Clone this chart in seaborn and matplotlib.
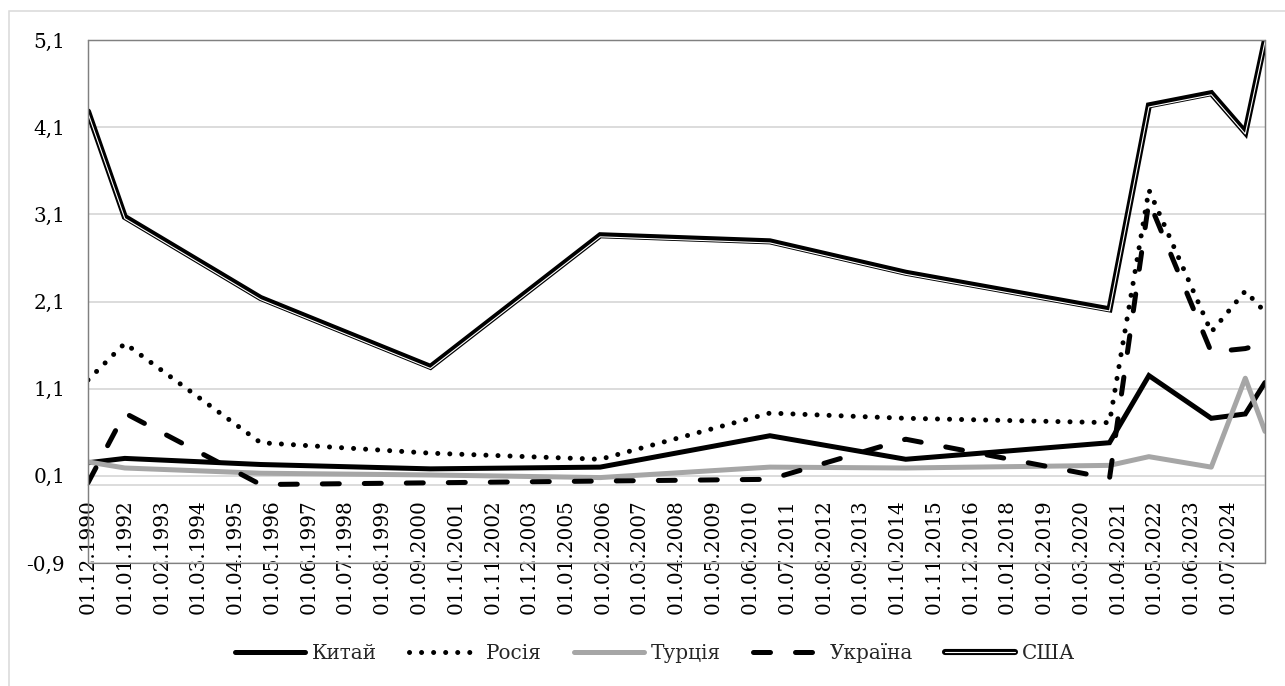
import matplotlib
matplotlib.use("Agg")
import matplotlib.pyplot as plt
import matplotlib.dates as mdates
from matplotlib.transforms import offset_copy
from matplotlib.patches import Rectangle
from matplotlib.legend_handler import HandlerTuple
import seaborn as sns
import pandas as pd

# ---------------- data ----------------
dates = ["1990-12-01", "1992-01-01", "1996-01-01", "2001-01-01", "2006-01-01",
         "2011-01-01", "2015-01-01", "2021-01-01", "2022-03-01", "2024-01-01",
         "2025-01-01", "2025-08-01"]
china   = [0.25, 0.30, 0.23, 0.18, 0.20, 0.56, 0.29, 0.48, 1.25, 0.76, 0.81, 1.17]
russia  = [1.20, 1.62, 0.48, 0.36, 0.29, 0.82, 0.76, 0.71, 3.38, 1.75, 2.22, 1.98]
turkey  = [0.26, 0.19, 0.13, 0.11, 0.08, 0.20, 0.19, 0.22, 0.32, 0.20, 1.22, 0.61]
ukraine = [0.02, 0.82, 0.00, 0.02, 0.04, 0.06, 0.52, 0.07, 3.25, 1.52, 1.56, 1.62]
usa     = [4.28, 3.07, 2.14, 1.35, 2.86, 2.79, 2.43, 2.01, 4.35, 4.49, 4.04, 5.10]
series_names = ["Китай", "Росія", "Турція", "Україна", "США"]

x_tick_labels = ["01.12.1990", "01.01.1992", "01.02.1993", "01.03.1994", "01.04.1995",
                 "01.05.1996", "01.06.1997", "01.07.1998", "01.08.1999", "01.09.2000",
                 "01.10.2001", "01.11.2002", "01.12.2003", "01.01.2005", "01.02.2006",
                 "01.03.2007", "01.04.2008", "01.05.2009", "01.06.2010", "01.07.2011",
                 "01.08.2012", "01.09.2013", "01.10.2014", "01.11.2015", "01.12.2016",
                 "01.01.2018", "01.02.2019", "01.03.2020", "01.04.2021", "01.05.2022",
                 "01.06.2023", "01.07.2024"]
y_ticks = [-0.9, 0.1, 1.1, 2.1, 3.1, 4.1, 5.1]
y_tick_labels = ["-0,9", "0,1", "1,1", "2,1", "3,1", "4,1", "5,1"]

# ---------------- style ----------------
sns.set_style("white")
plt.rcParams["font.family"] = ["DejaVu Serif", "DejaVu Sans"]
FS = 14.4

W, H = 1285, 686
fig = plt.figure(figsize=(W / 100, H / 100), dpi=100)
fig.patch.set_facecolor("white")

# outer chart border (only top/left visible)
fig.patches.append(Rectangle((9 / W, -0.05), 1.2, 1 - 11 / H + 0.05,
                             transform=fig.transFigure, fill=False,
                             edgecolor="#d9d9d9", linewidth=1.1, zorder=0))

L, R, T, B = 88, 1265, 40, 563
ax = fig.add_axes([L / W, 1 - B / H, (R - L) / W, (B - T) / H])

xnum = mdates.date2num(pd.to_datetime(dates))
df = pd.DataFrame({"x": xnum, "Китай": china, "Росія": russia,
                   "Турція": turkey, "Україна": ukraine, "США": usa})

lw = 3.6
sns.lineplot(data=df, x="x", y="Китай", ax=ax, color="black", linewidth=lw,
             solid_joinstyle="miter", zorder=3)
sns.lineplot(data=df, x="x", y="Росія", ax=ax, color="black", linewidth=3.6,
             linestyle=(0, (0.01, 2.4)), dash_capstyle="round", zorder=3)
sns.lineplot(data=df, x="x", y="Турція", ax=ax, color="#a6a6a6", linewidth=lw,
             zorder=3)
sns.lineplot(data=df, x="x", y="Україна", ax=ax, color="black", linewidth=lw,
             linestyle=(0, (3.4, 5.0)), dash_capstyle="round", zorder=3)
sns.lineplot(data=df, x="x", y="США", ax=ax, color="black", linewidth=4.4,
             solid_joinstyle="miter", zorder=4)
white_tr = offset_copy(ax.transData, fig=fig, x=0, y=-1.6, units="dots")
sns.lineplot(data=df, x="x", y="США", ax=ax, color="white", linewidth=0.8,
             transform=white_tr, zorder=5)

# axes ranges / ticks
ax.set_xlim(xnum[0], xnum[-1])
ax.set_ylim(-0.9, 5.1)
ax.set_yticks(y_ticks)
ax.set_yticklabels(y_tick_labels)
tick_nums = mdates.date2num(pd.to_datetime(x_tick_labels, format="%d.%m.%Y"))
ax.set_xticks(tick_nums)
ax.set_xticklabels(x_tick_labels)
ax.set_xlabel("")
ax.set_ylabel("")

ax.grid(axis="y", color="#d9d9d9", linewidth=1.3, zorder=0)
ax.grid(axis="x", visible=False)
ax.set_axisbelow(True)

ax.tick_params(axis="y", length=0, pad=16.5, labelsize=FS, labelcolor="black")
ax.tick_params(axis="x", direction="out", length=5, width=1.1, color="#d9d9d9",
               pad=5.5, labelsize=FS, labelcolor="black", labelrotation=90)
for lab in ax.get_xticklabels():
    lab.set_rotation(90)
    lab.set_horizontalalignment("center")
    lab.set_verticalalignment("top")

for s in ["top", "left", "right"]:
    ax.spines[s].set_visible(True)
    ax.spines[s].set_color("#808080")
    ax.spines[s].set_linewidth(0.9)
ax.spines["bottom"].set_position(("data", 0))
ax.spines["bottom"].set_color("#d9d9d9")
ax.spines["bottom"].set_linewidth(1.3)
ax.spines["bottom"].set_visible(True)
# bottom edge of the plot area box
ax.add_patch(Rectangle((0, 0), 1, 1, transform=ax.transAxes, fill=False,
                       edgecolor="#808080", linewidth=0.9, clip_on=False, zorder=6))

# legend
lines = ax.get_lines()
h_china, h_russia, h_turkey, h_ukraine, h_usa, h_usa_w = lines[:6]
leg = fig.legend([h_china, h_russia, h_turkey, h_ukraine, (h_usa, h_usa_w)],
                 series_names, loc="center",
                 bbox_to_anchor=(655 / W, 1 - 653 / H), ncol=5, frameon=False,
                 fontsize=FS, handlelength=3.5, handletextpad=0.35,
                 columnspacing=1.6,
                 handler_map={tuple: HandlerTuple(ndivide=1)})

fig.savefig("out.png", dpi=100, facecolor="white")
